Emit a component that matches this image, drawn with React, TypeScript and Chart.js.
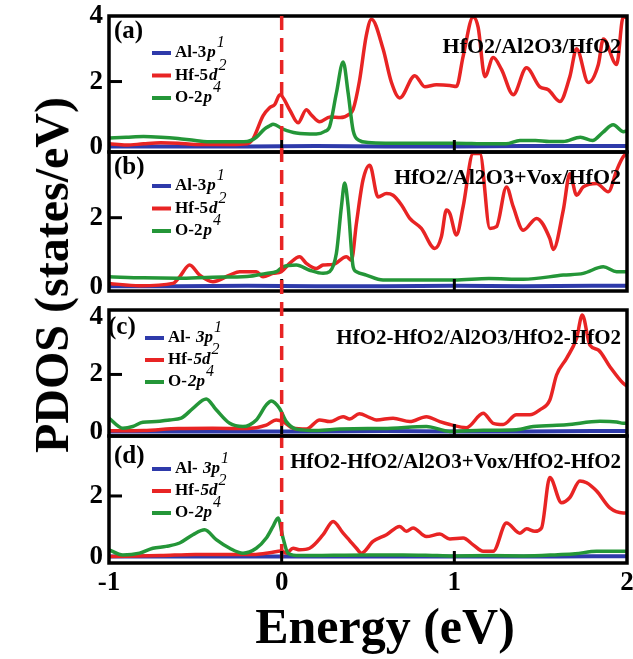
import React, { useEffect, useRef } from 'react';
import { Chart, registerables } from 'chart.js';
Chart.register(...registerables);

// ---------------- data ----------------
const xTicks = [-1, 0, 1, 2];
const yTicksA = [0, 2, 4];
const yTicksB = [0, 2];
const yTicksC = [0, 2, 4];
const yTicksD = [0, 2];

// Al-3p (blue) – nearly zero in all panels
const alE = [-1, -0.6, -0.2, 0.2, 0.6, 1.0, 1.4, 1.8, 2.0];
const alA = [0.02, 0.02, 0.02, 0.03, 0.02, 0.02, 0.03, 0.03, 0.03];
const alB = [0.02, 0.02, 0.03, 0.02, 0.02, 0.03, 0.02, 0.03, 0.03];
const alC = [0.02, 0.02, 0.02, 0.02, 0.03, 0.02, 0.02, 0.03, 0.03];
const alD = [0.03, 0.03, 0.03, 0.03, 0.03, 0.03, 0.03, 0.04, 0.04];

// (a) HfO2/Al2O3/HfO2
const hfA_E = [-1, -0.9, -0.8, -0.7, -0.6, -0.5, -0.4, -0.3, -0.2, -0.166, -0.108, -0.07, -0.04, -0.01, 0.046, 0.095, 0.143, 0.172, 0.22, 0.28, 0.34, 0.39, 0.414, 0.45, 0.49, 0.52, 0.587, 0.636, 0.684, 0.771, 0.829, 0.896, 0.974, 1.012, 1.051, 1.109, 1.138, 1.177, 1.225, 1.273, 1.341, 1.418, 1.495, 1.544, 1.611, 1.669, 1.708, 1.776, 1.834, 1.863, 1.94, 1.978, 2.0];
const hfA = [0.1, 0.06, 0.1, 0.13, 0.12, 0.08, 0.08, 0.08, 0.1, 0.25, 0.95, 1.2, 1.3, 1.6, 1.14, 0.74, 1.14, 0.98, 0.77, 0.92, 0.9, 1.0, 1.15, 2.0, 3.4, 3.9, 3.0, 1.97, 1.5, 2.18, 1.84, 1.9, 1.88, 1.85, 2.77, 3.97, 3.65, 2.15, 2.73, 2.37, 1.6, 2.42, 1.84, 1.75, 1.39, 2.15, 3.0, 1.97, 2.52, 3.3, 2.52, 3.97, 3.95];
const oA_E = [-1, -0.9, -0.8, -0.7, -0.6, -0.5, -0.4, -0.3, -0.2, -0.147, -0.1, -0.069, -0.05, 0.008, 0.085, 0.2, 0.25, 0.278, 0.317, 0.356, 0.385, 0.414, 0.45, 0.5, 0.6, 0.8, 1.0, 1.2, 1.3, 1.38, 1.47, 1.55, 1.63, 1.73, 1.8, 1.86, 1.92, 1.98, 2.0];
const oA = [0.28, 0.3, 0.32, 0.3, 0.26, 0.2, 0.16, 0.16, 0.17, 0.3, 0.55, 0.65, 0.7, 0.55, 0.43, 0.4, 0.48, 0.63, 1.65, 2.6, 1.65, 0.5, 0.2, 0.14, 0.12, 0.12, 0.12, 0.1, 0.1, 0.2, 0.2, 0.17, 0.17, 0.3, 0.2, 0.45, 0.68, 0.47, 0.5];

// (b) HfO2/Al2O3+Vox/HfO2
const hfB_E = [-1, -0.823, -0.63, -0.591, -0.533, -0.475, -0.398, -0.301, -0.243, -0.147, -0.108, -0.05, -0.002, 0.046, 0.104, 0.143, 0.201, 0.24, 0.298, 0.375, 0.404, 0.433, 0.471, 0.51, 0.558, 0.607, 0.645, 0.694, 0.742, 0.809, 0.887, 0.925, 0.954, 0.974, 1.012, 1.051, 1.109, 1.148, 1.206, 1.244, 1.302, 1.341, 1.399, 1.476, 1.553, 1.573, 1.631, 1.669, 1.708, 1.747, 1.824, 1.892, 1.94, 1.978, 2.0];
const hfB = [0.1, 0.03, 0.1, 0.29, 0.63, 0.34, 0.15, 0.34, 0.44, 0.44, 0.29, 0.39, 0.44, 0.68, 0.87, 0.68, 0.53, 0.63, 0.65, 0.87, 0.77, 1.84, 3.09, 3.52, 2.6, 2.7, 2.65, 2.37, 1.98, 1.69, 1.11, 1.45, 2.22, 2.12, 1.5, 2.32, 3.86, 3.86, 1.69, 1.74, 2.89, 2.32, 1.64, 1.98, 1.4, 1.08, 2.22, 3.27, 2.65, 2.89, 2.99, 2.75, 3.37, 3.76, 3.85];
const oB_E = [-1, -0.8, -0.6, -0.4, -0.2, -0.089, -0.031, 0.008, 0.085, 0.162, 0.24, 0.278, 0.317, 0.346, 0.365, 0.385, 0.414, 0.433, 0.49, 0.587, 0.8, 1.0, 1.2, 1.4, 1.631, 1.747, 1.863, 1.94, 2.0];
const oB = [0.29, 0.26, 0.25, 0.28, 0.3, 0.39, 0.44, 0.58, 0.63, 0.48, 0.39, 0.44, 0.97, 2.32, 3.0, 2.32, 0.58, 0.44, 0.34, 0.2, 0.2, 0.2, 0.24, 0.22, 0.34, 0.39, 0.58, 0.44, 0.44];

// (c) HfO2-HfO2/Al2O3/HfO2-HfO2
const hfC_E = [-1, -0.8, -0.6, -0.4, -0.2, -0.089, -0.031, 0.008, 0.066, 0.143, 0.22, 0.278, 0.356, 0.394, 0.45, 0.51, 0.549, 0.645, 0.742, 0.838, 0.916, 0.974, 1.07, 1.167, 1.225, 1.283, 1.36, 1.437, 1.495, 1.553, 1.592, 1.65, 1.708, 1.741, 1.785, 1.834, 1.901, 1.978, 2.0];
const hfC = [0.04, 0.05, 0.12, 0.13, 0.12, 0.24, 0.42, 0.36, 0.13, 0.1, 0.42, 0.36, 0.53, 0.45, 0.63, 0.5, 0.42, 0.48, 0.36, 0.53, 0.36, 0.26, 0.15, 0.65, 0.3, 0.26, 0.6, 0.6, 0.77, 1.11, 1.98, 2.56, 3.26, 4.07, 3.02, 2.85, 2.27, 1.69, 1.6];
const oC_E = [-1, -0.92, -0.862, -0.804, -0.727, -0.649, -0.582, -0.514, -0.437, -0.379, -0.301, -0.224, -0.147, -0.089, -0.06, -0.012, 0.027, 0.085, 0.201, 0.336, 0.5, 0.587, 0.838, 0.974, 1.167, 1.36, 1.457, 1.65, 1.843, 1.94, 1.978, 2.0];
const oC = [0.48, 0.13, 0.19, 0.34, 0.36, 0.42, 0.48, 0.82, 1.15, 0.77, 0.3, 0.19, 0.42, 0.94, 1.08, 0.82, 0.36, 0.1, 0.05, 0.1, 0.12, 0.12, 0.19, 0.02, 0.06, 0.08, 0.19, 0.25, 0.37, 0.35, 0.3, 0.3];

// (d) HfO2-HfO2/Al2O3+Vox/HfO2-HfO2
const hfD_E = [-1, -0.9, -0.7, -0.5, -0.3, -0.15, -0.07, -0.002, 0.027, 0.066, 0.104, 0.162, 0.24, 0.298, 0.356, 0.394, 0.433, 0.462, 0.529, 0.607, 0.684, 0.722, 0.761, 0.838, 0.916, 0.974, 1.051, 1.109, 1.167, 1.225, 1.302, 1.38, 1.418, 1.466, 1.505, 1.553, 1.621, 1.669, 1.727, 1.766, 1.824, 1.901, 1.978, 2.0];
const hfD = [0.03, 0.04, 0.06, 0.1, 0.1, 0.1, 0.15, 0.21, 0.14, 0.3, 0.25, 0.3, 0.74, 1.17, 0.79, 0.55, 0.3, 0.14, 0.52, 0.74, 1.01, 0.85, 0.96, 0.68, 0.76, 0.6, 0.63, 0.41, 0.2, 0.2, 1.12, 0.79, 0.93, 0.85, 0.96, 2.6, 1.78, 1.95, 2.49, 2.43, 2.16, 1.61, 1.45, 1.45];
const oD_E = [-1, -0.92, -0.823, -0.746, -0.669, -0.591, -0.514, -0.446, -0.379, -0.301, -0.224, -0.147, -0.089, -0.05, -0.021, 0.008, 0.037, 0.104, 0.3, 0.5, 0.7, 0.9, 1.0, 1.2, 1.4, 1.6, 1.7, 1.824, 2.0];
const oD = [0.25, 0.08, 0.14, 0.3, 0.36, 0.47, 0.74, 0.9, 0.58, 0.3, 0.14, 0.3, 0.63, 1.01, 1.28, 0.63, 0.14, 0.06, 0.07, 0.08, 0.08, 0.06, 0.05, 0.06, 0.05, 0.09, 0.12, 0.2, 0.2];

const titles = ['HfO2/Al2O3/HfO2', 'HfO2/Al2O3+Vox/HfO2', 'HfO2-HfO2/Al2O3/HfO2-HfO2', 'HfO2-HfO2/Al2O3+Vox/HfO2-HfO2'];
const letters = ['(a)', '(b)', '(c)', '(d)'];

type Seg = { t: string; italic?: boolean; sup?: boolean };
const legendAB: Seg[][] = [
  [{ t: 'Al-3' }, { t: 'p', italic: true }, { t: '1', italic: true, sup: true }],
  [{ t: 'Hf-5' }, { t: 'd', italic: true }, { t: '2', italic: true, sup: true }],
  [{ t: 'O-2' }, { t: 'p', italic: true }, { t: '4', italic: true, sup: true }],
];
const legendCD: Seg[][] = [
  [{ t: 'Al- ' }, { t: '3p', italic: true }, { t: '1', italic: true, sup: true }],
  [{ t: 'Hf-' }, { t: '5d', italic: true }, { t: '2', italic: true, sup: true }],
  [{ t: 'O-' }, { t: '2p', italic: true }, { t: '4', italic: true, sup: true }],
];

// ---------------- layout / style ----------------
const W = 633;
const H = 659;
const PLOT_LEFT = 109;
const PLOT_RIGHT = 627;
const X_AXIS_H = 40;
const FONT = "'Liberation Serif', 'Times New Roman', Times, serif";
const RED = 'rgb(232, 36, 36)';
const GREEN = 'rgb(36, 150, 56)';
const BLUE = 'rgb(46, 58, 170)';
const TOP_ALL = 16;
const BOTTOM_ALL = 563;

const PANELS = [
  { i: 0, top: 16, bottom: 152, min: -0.15, max: 4, yTicks: yTicksA, hfE: hfA_E, hf: hfA, oE: oA_E, o: oA, al: alA, legend: legendAB,
    letter: { x: 114, y: 32 }, leg: { x: 152, y: 53, dy: 22.5 }, title: { y: 47, size: 22 } },
  { i: 1, top: 152, bottom: 291, min: -0.12, max: 3.9, yTicks: yTicksB, hfE: hfB_E, hf: hfB, oE: oB_E, o: oB, al: alB, legend: legendAB,
    letter: { x: 114, y: 168 }, leg: { x: 152, y: 186, dy: 22.5 }, title: { y: 178, size: 22 } },
  { i: 2, top: 310, bottom: 436, min: -0.14, max: 4.24, yTicks: yTicksC, hfE: hfC_E, hf: hfC, oE: oC_E, o: oC, al: alC, legend: legendCD,
    letter: { x: 108, y: 328 }, leg: { x: 145, y: 338, dy: 22 }, title: { y: 339, size: 21 } },
  { i: 3, top: 436, bottom: 563, min: -0.18, max: 3.95, yTicks: yTicksD, hfE: hfD_E, hf: hfD, oE: oD_E, o: oD, al: alD, legend: legendCD,
    letter: { x: 114, y: 457 }, leg: { x: 152, y: 469, dy: 22 }, title: { y: 463, size: 21 } },
];

function drawSegs(ctx: CanvasRenderingContext2D, segs: Seg[], x: number, y: number, size: number) {
  let cx = x;
  ctx.textAlign = 'left';
  ctx.textBaseline = 'middle';
  ctx.fillStyle = '#000';
  for (const s of segs) {
    const fs = s.sup ? size - 1 : size;
    ctx.font = `${s.italic ? 'italic ' : ''}${s.sup ? '' : 'bold '}${fs}px ${FONT}`;
    ctx.fillText(s.t, cx, s.sup ? y - 10 : y);
    cx += ctx.measureText(s.t).width + (s.sup ? 0 : 1);
  }
}

function makeDeco(p: any) {
  return {
    id: 'deco' + p.i,
    afterDatasetsDraw(chart: any) {
      const { ctx, scales } = chart;
      if (p.i !== 3) return;
      ctx.save();
      // dashed Fermi level line through all panels
      const x0 = scales.x.getPixelForValue(0);
      ctx.strokeStyle = RED;
      ctx.lineWidth = 3.5;
      ctx.setLineDash([14, 8]);
      ctx.beginPath();
      ctx.moveTo(x0, TOP_ALL);
      ctx.lineTo(x0, BOTTOM_ALL);
      ctx.stroke();
      ctx.setLineDash([]);
      ctx.restore();
    },
    afterDraw(chart: any) {
      const { ctx, chartArea: a, scales } = chart;
      ctx.save();
      // frame
      ctx.strokeStyle = '#000';
      ctx.lineWidth = 3.5;
      ctx.strokeRect(a.left, a.top, a.right - a.left, a.bottom - a.top);
      // inner ticks
      ctx.lineWidth = 3;
      for (const v of p.yTicks) {
        const py = scales.y.getPixelForValue(v);
        if (py > a.top + 10 && py < a.bottom - 10) {
          ctx.beginPath();
          ctx.moveTo(a.left, py);
          ctx.lineTo(a.left + 13, py);
          ctx.stroke();
        }
      }
      for (const v of xTicks) {
        const px = scales.x.getPixelForValue(v);
        if (px > a.left + 5 && px < a.right - 5) {
          ctx.beginPath();
          ctx.moveTo(px, a.bottom);
          ctx.lineTo(px, a.bottom - 12);
          ctx.stroke();
        }
      }
      // panel letter
      ctx.fillStyle = '#000';
      ctx.font = `bold 25px ${FONT}`;
      ctx.textAlign = 'left';
      ctx.textBaseline = 'middle';
      ctx.fillText(letters[p.i], p.letter.x, p.letter.y);
      // title
      ctx.font = `bold ${p.title.size}px ${FONT}`;
      ctx.textAlign = 'right';
      ctx.fillText(titles[p.i], 621, p.title.y);
      // legend
      const cols = [BLUE, RED, GREEN];
      p.legend.forEach((segs: Seg[], k: number) => {
        const y = p.leg.y + k * p.leg.dy;
        ctx.strokeStyle = cols[k];
        ctx.lineWidth = 4;
        ctx.beginPath();
        ctx.moveTo(p.leg.x, y);
        ctx.lineTo(p.leg.x + 19, y);
        ctx.stroke();
        drawSegs(ctx, segs, p.leg.x + 23, y, 17);
      });
      ctx.restore();
    },
  };
}

function makeConfig(p: any): any {
  const mk = (E: number[], V: number[]) => E.map((x, i) => ({ x, y: V[i] }));
  const showX = p.i === 3;
  const tickFont = { family: FONT, size: 27, weight: 'bold' as const };
  return {
    type: 'line',
    data: {
      datasets: [
        { label: 'O-2p', data: mk(p.oE, p.o), borderColor: GREEN, borderWidth: 3.5, order: 0 },
        { label: 'Hf-5d', data: mk(p.hfE, p.hf), borderColor: RED, borderWidth: 3.5, order: 1 },
        { label: 'Al-3p', data: mk(alE, p.al), borderColor: BLUE, borderWidth: 4, order: 2 },
      ],
    },
    options: {
      responsive: false,
      animation: false,
      events: [],
      layout: {
        padding: {
          left: 0,
          right: W - PLOT_RIGHT,
          top: p.top,
          bottom: showX ? H - p.bottom - X_AXIS_H : H - p.bottom,
        },
      },
      elements: {
        point: { radius: 0 },
        line: { cubicInterpolationMode: 'monotone', borderJoinStyle: 'round', borderCapStyle: 'round' },
      },
      plugins: { legend: { display: false }, tooltip: { enabled: false } },
      scales: {
        x: {
          type: 'linear',
          min: -1,
          max: 2,
          display: showX,
          afterBuildTicks: (s: any) => { s.ticks = xTicks.map((v) => ({ value: v })); },
          afterFit: (s: any) => { s.height = showX ? X_AXIS_H : 0; s.paddingLeft = 0; s.paddingRight = 0; },
          grid: { display: false, drawTicks: false },
          border: { display: false },
          ticks: { font: tickFont, color: '#000', padding: 4, maxRotation: 0, autoSkip: false, callback: (v: any) => String(v) },
        },
        y: {
          type: 'linear',
          min: p.min,
          max: p.max,
          afterBuildTicks: (s: any) => { s.ticks = p.yTicks.map((v: number) => ({ value: v })); },
          afterFit: (s: any) => { s.width = PLOT_LEFT; s.paddingTop = 0; s.paddingBottom = 0; },
          grid: { display: false, drawTicks: false },
          border: { display: false },
          ticks: { font: tickFont, color: '#000', padding: 6, callback: (v: any) => String(v) },
        },
      },
    },
    plugins: [makeDeco(p)],
  };
}

function Panel({ p }: { p: any }) {
  const ref = useRef<HTMLCanvasElement | null>(null);
  useEffect(() => {
    if (!ref.current) return;
    const chart = new Chart(ref.current, makeConfig(p));
    return () => chart.destroy();
  }, [p]);
  return (
    <canvas
      ref={ref}
      width={W}
      height={H}
      style={{ position: 'absolute', left: 0, top: 0, width: W, height: H }}
    />
  );
}

export default function App() {
  return (
    <div style={{ position: 'absolute', left: 0, top: 0, width: W, height: H, overflow: 'hidden', background: '#fff' }}>
      {PANELS.map((p) => (
        <Panel key={p.i} p={p} />
      ))}
      <div
        style={{
          position: 'absolute', left: 52, top: 275, transform: 'translate(-50%, -50%) rotate(-90deg)',
          fontFamily: FONT, fontWeight: 'bold', fontSize: 48, lineHeight: 1, whiteSpace: 'nowrap', color: '#000',
        }}
      >
        PDOS (states/eV)
      </div>
      <div
        style={{
          position: 'absolute', left: 385, top: 626, transform: 'translate(-50%, -50%)',
          fontFamily: FONT, fontWeight: 'bold', fontSize: 50, lineHeight: 1, whiteSpace: 'nowrap', color: '#000',
        }}
      >
        Energy (eV)
      </div>
    </div>
  );
}
